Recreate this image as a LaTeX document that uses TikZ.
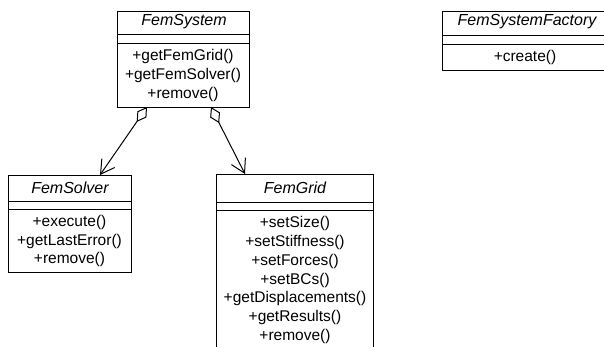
\documentclass[tikz,border=0pt]{standalone}
\usepackage{fontspec}
\setmainfont{Liberation Sans}
\usetikzlibrary{arrows.meta}
\begin{document}
\begin{tikzpicture}[x=1pt,y=-1pt,line width=1pt,
  classbox/.style={draw,line width=1pt,anchor=north west,inner sep=0pt,outer sep=0pt},
  classtitle/.style={font=\fontsize{16}{19}\selectfont\itshape,inner sep=0pt,anchor=center},
  methods/.style={font=\fontsize{15.5}{18.7}\selectfont,inner sep=0pt,align=center,anchor=center},
  sepline/.style={draw,line width=1pt},
  agg/.style={draw,line width=1pt,{Diamond[open,length=18pt,width=11pt]}-{Straight Barb[length=13.5pt,width=15.6pt]}}]
\useasboundingbox (0,0) rectangle (604,346);

% FemSystem
\node[classbox,minimum width=132pt,minimum height=96pt] (fsys) at (117,11) {};
\draw[sepline] ([yshift=-23pt]fsys.north west) -- ([yshift=-23pt]fsys.north east);
\draw[sepline] ([yshift=-32pt]fsys.north west) -- ([yshift=-32pt]fsys.north east);
\node[classtitle] (fsysT) at (184,22) {FemSystem};
\node[methods] (fsysM) at (183,75.5) {+getFemGrid()\\+getFemSolver()\\+remove()};

% FemSystemFactory
\node[classbox,minimum width=166pt,minimum height=59pt] (fact) at (442,11) {};
\draw[sepline] ([yshift=-24pt]fact.north west) -- ([yshift=-24pt]fact.north east);
\draw[sepline] ([yshift=-33pt]fact.north west) -- ([yshift=-33pt]fact.north east);
\node[classtitle] (factT) at (527,22) {FemSystemFactory};
\node[methods] (factM) at (525,57) {+create()};

% FemSolver
\node[classbox,minimum width=123pt,minimum height=97pt] (solv) at (8,175) {};
\draw[sepline] ([yshift=-26pt]solv.north west) -- ([yshift=-26pt]solv.north east);
\draw[sepline] ([yshift=-34pt]solv.north west) -- ([yshift=-34pt]solv.north east);
\node[classtitle] (solvT) at (70,188) {FemSolver};
\node[methods] (solvM) at (69.5,241) {+execute()\\+getLastError()\\+remove()};

% FemGrid
\node[classbox,minimum width=157pt,minimum height=190pt] (grid) at (216,174) {};
\draw[sepline] ([yshift=-28pt]grid.north west) -- ([yshift=-28pt]grid.north east);
\draw[sepline] ([yshift=-36pt]grid.north west) -- ([yshift=-36pt]grid.north east);
\node[classtitle] (gridT) at (295,188) {FemGrid};
\node[methods] (gridM) at (295,280) {+setSize()\\+setStiffness()\\+setForces()\\+setBCs()\\+getDisplacements()\\+getResults()\\+remove()};

% aggregations
\draw[agg] ([xshift=30pt]fsys.south west) -- ([xshift=92pt]solv.north west);
\draw[agg] ([xshift=94pt]fsys.south west) -- ([xshift=29pt]grid.north west);
\end{tikzpicture}
\end{document}
